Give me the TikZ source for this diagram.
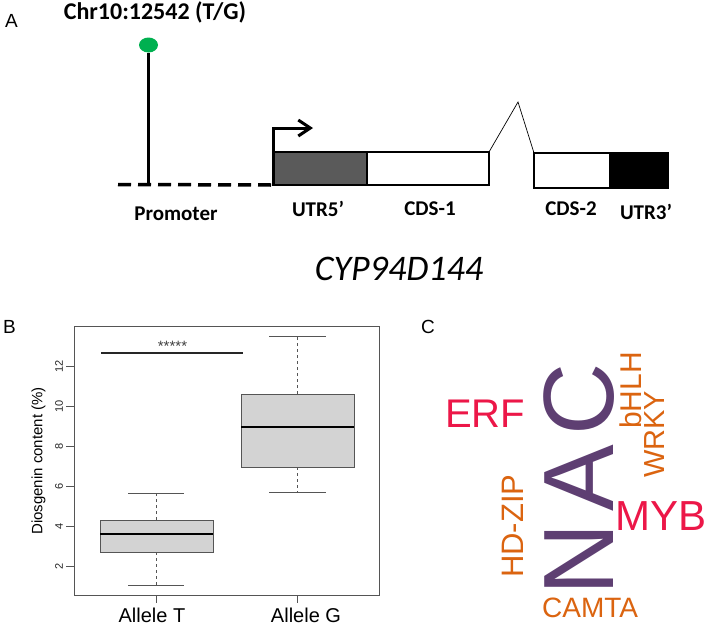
\documentclass[tikz,border=0pt]{standalone}
\usepackage{fontspec}
\setmainfont{Liberation Sans}
\newfontfamily\calfont{Carlito}
\usetikzlibrary{arrows.meta,shapes.geometric}
\definecolor{nacpurple}{HTML}{5E3F72}
\definecolor{cloudred}{HTML}{EC1748}
\definecolor{cloudorange}{HTML}{DB6410}
\definecolor{snpgreen}{HTML}{00B050}
\definecolor{utrgray}{HTML}{5A5A5A}
\definecolor{boxgray}{HTML}{D3D3D3}
\definecolor{plotgray}{HTML}{555555}
\newcommand{\fsz}[1]{\fontsize{#1pt}{#1pt}\selectfont}
\begin{document}
\begin{tikzpicture}[x=1pt,y=-1pt,
  panellabel/.style={font=\fsz{19}, anchor=base west, inner sep=0},
  genelabel/.style={font=\calfont\bfseries\fsz{21}, anchor=base, inner sep=0},
  exon/.style={draw=black, line width=1.5pt, anchor=north west, inner sep=0, outer sep=0},
  boxq/.style={fill=boxgray, draw=plotgray, line width=0.9pt},
  whisk/.style={draw=plotgray, dash pattern=on 3pt off 3pt, line width=0.7pt},
  capline/.style={draw=plotgray, line width=0.9pt},
  medline/.style={draw=black, line width=2.2pt},
  cloudword/.style={inner sep=0, anchor=base west}]
\useasboundingbox (0,0) rectangle (708,625);
\fill[white] (0,0) rectangle (708,625);

% ---------------- Panel A ----------------
\node[panellabel] (labA) at (5,27) {A};
\node[font=\calfont\bfseries\fsz{24}, anchor=base, inner sep=0] (chr) at (155,19) {Chr10:12542 (T/G)};

\node[fill=snpgreen, ellipse, minimum width=19pt, minimum height=15pt, inner sep=0] (snp) at (148.5,45) {};
\coordinate (snpbase) at (148.5,185);
\draw[line width=3pt] (snp.south) -- (snpbase);

\node[exon, fill=utrgray, minimum width=94pt, minimum height=33pt] (utr5) at (273,152) {};
\node[exon, fill=white, minimum width=122pt, minimum height=33pt] (cds1) at (367,152) {};
\node[exon, fill=white, minimum width=76pt, minimum height=35pt] (cds2) at (534,153) {};
\node[exon, fill=black, minimum width=58pt, minimum height=35pt] (utr3) at (610,153) {};

\coordinate (promstart) at (118,184.5);
\draw[line width=3.5pt, dash pattern=on 13pt off 7pt] (promstart) -- (utr5.south west);

\coordinate (tssend) at (313,128);
\draw[line width=3pt, -{Straight Barb[length=12pt,width=16pt]}] (utr5.south west) |- (tssend);

\coordinate (peak) at (518,102);
\draw[line width=0.7pt] (cds1.north east) -- (peak) -- (cds2.north west);

\node[genelabel] (lprom) at (176,220) {Promoter};
\node[genelabel] (lutr5) at (318,216) {UTR5’};
\node[genelabel] (lcds1) at (430,215) {CDS-1};
\node[genelabel] (lcds2) at (571,215) {CDS-2};
\node[genelabel] (lutr3) at (646,219) {UTR3’};

\node[font=\calfont\itshape\fsz{36}, anchor=base, inner sep=0] (gene) at (399,280) {CYP94D144};

% ---------------- Panel B ----------------
\node[panellabel] (labB) at (3,333) {B};
\draw[draw=plotgray, line width=1pt] (74,326) rectangle (379,595);
\foreach \v in {2,4,...,12} {
  \draw[draw=plotgray, line width=0.9pt] (74,606-20*\v) -- (66,606-20*\v);
  \node[rotate=90, font=\fsz{11}, inner sep=0, text=black!85] (yt\v) at (59,606-20*\v) {\v};
}
\node[rotate=90, font=\fsz{15}, inner sep=0] (ylab) at (38.5,461) {Diosgenin content (\%)};
\draw[draw=plotgray, line width=0.9pt] (156,595) -- (156,603);
\draw[draw=plotgray, line width=0.9pt] (297.5,595) -- (297.5,603);
\node[font=\fsz{20}, anchor=base, inner sep=0] (xtT) at (152,622) {Allele T};
\node[font=\fsz{20}, anchor=base, inner sep=0] (xtG) at (306,622) {Allele G};

% Allele T box
\draw[whisk] (156,552) -- (156,585);
\draw[whisk] (156,520) -- (156,493);
\draw[capline] (128,585) -- (184,585);
\draw[capline] (128,493) -- (184,493);
\draw[boxq] (100,520) rectangle (213,552);
\draw[medline] (100,534) -- (213,534);

% Allele G box
\draw[whisk] (297.5,467) -- (297.5,492);
\draw[whisk] (297.5,394) -- (297.5,336);
\draw[capline] (269,492) -- (326,492);
\draw[capline] (269,336) -- (326,336);
\draw[boxq] (241,394) rectangle (354,467);
\draw[medline] (241,427) -- (354,427);

\draw[line width=1.2pt, draw=black!85] (101,353) -- (243,353);
\node[font=\fsz{15}, anchor=base, inner sep=0, text=black!75] (stars) at (172.5,351) {*****};

% ---------------- Panel C ----------------
\node[panellabel] (labC) at (421,333) {C};
\node[cloudword, rotate=90, font=\fsz{100}, text=nacpurple] (nac) at (613,596) {N\kern12pt A\kern9pt C};
\node[cloudword, font=\fsz{40}, text=cloudred] (erf) at (445,427) {ERF};
\node[cloudword, font=\fsz{42}, text=cloudred] (myb) at (615,530) {MYB};
\node[cloudword, rotate=90, font=\fsz{30}, text=cloudorange] (bhlh) at (641,429) {bHLH};
\node[cloudword, rotate=90, font=\fsz{29}, text=cloudorange] (wrky) at (664,478) {WRKY};
\node[cloudword, rotate=90, font=\fsz{31}, text=cloudorange] (hdzip) at (523,578) {HD-ZIP};
\node[cloudword, font=\fsz{28}, text=cloudorange] (camta) at (542,617) {CAMTA};
\end{tikzpicture}
\end{document}
